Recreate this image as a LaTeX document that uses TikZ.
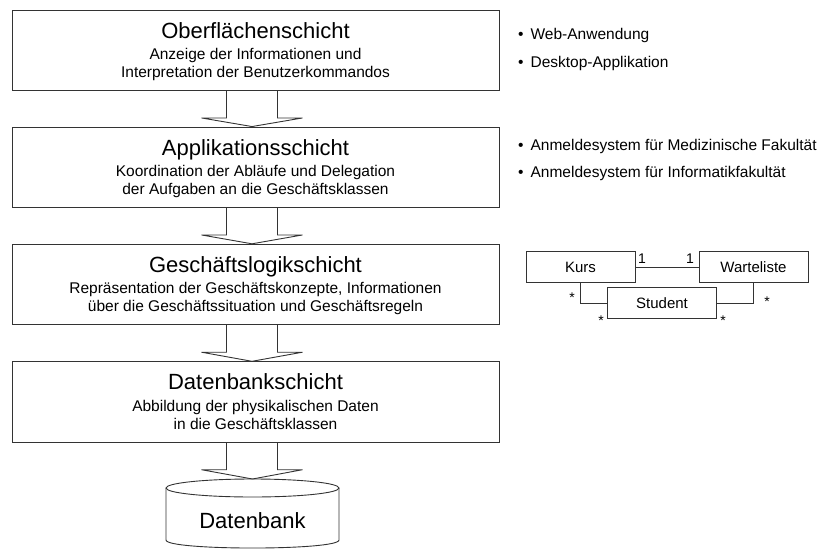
\documentclass[tikz,border=0pt]{standalone}
\usepackage{fontspec}
\setmainfont{Liberation Sans}
\usetikzlibrary{calc}
\tikzset{
  line/.style={draw=black!80, line width=0.9pt},
  layer/.style={line, fill=white, minimum width=487pt, minimum height=80.5pt, inner sep=0pt},
  ltitle/.style={anchor=base, inner sep=0pt, font=\fontsize{22}{26}\selectfont},
  lsub/.style={anchor=base, inner sep=0pt, font=\fontsize{15.5}{17}\selectfont},
  bul/.style={anchor=base west, inner sep=0pt, font=\fontsize{15.5}{17}\selectfont},
  cls/.style={line, fill=white, minimum width=109pt, minimum height=31pt, inner sep=0pt, font=\fontsize{15}{17}\selectfont},
  mult/.style={inner sep=0pt, font=\fontsize{14}{16}\selectfont},
  blockarrow/.style={line, line join=miter},
}
\newcommand\layerarrow[2]{%
  \draw[blockarrow] ($(#1.south)+(-29,0)$) -- ++(0,27) -- ++(-25,0) -- (#2)
    -- ($(#1.south)+(47,27)$) -- ++(-25,0) -- ++(0,-27);}
\begin{document}
\begin{tikzpicture}[x=1pt,y=-1pt]
\useasboundingbox (0,0) rectangle (827,549);

% layers
\node[layer] (b1) at (255.5,50.25) {};
\node[layer] (b2) at (255.5,167.25) {};
\node[layer] (b3) at (255.5,284.5) {};
\node[layer] (b4) at (255.5,402) {};

\node[ltitle] (t1) at ($(b1.north)+(0,28.5)$) {Oberflächenschicht};
\node[lsub] (s1a) at ($(b1.north)+(0,50)$) {Anzeige der Informationen und};
\node[lsub] (s1b) at ($(b1.north)+(0,68)$) {Interpretation der Benutzerkommandos};

\node[ltitle] (t2) at ($(b2.north)+(0,28.5)$) {Applikationsschicht};
\node[lsub] (s2a) at ($(b2.north)+(0,50)$) {Koordination der Abläufe und Delegation};
\node[lsub] (s2b) at ($(b2.north)+(0,68)$) {der Aufgaben an die Geschäftsklassen};

\node[ltitle] (t3) at ($(b3.north)+(0,28.5)$) {Geschäftslogikschicht};
\node[lsub] (s3a) at ($(b3.north)+(0,50)$) {Repräsentation der Geschäftskonzepte, Informationen};
\node[lsub] (s3b) at ($(b3.north)+(0,68)$) {über die Geschäftssituation und Geschäftsregeln};

\node[ltitle] (t4) at ($(b4.north)+(0,28.5)$) {Datenbankschicht};
\node[lsub] (s4a) at ($(b4.north)+(0,50)$) {Abbildung der physikalischen Daten};
\node[lsub] (s4b) at ($(b4.north)+(0,68)$) {in die Geschäftsklassen};

% database cylinder
\coordinate (dbtop) at (252.5,479);
\draw[line, fill=white] (166,488) -- (166,540) .. controls (166,550.7) and (339,550.7) .. (339,540) -- (339,488);
\draw[line] (252.5,488) ellipse [x radius=86.5, y radius=9];
\node[ltitle] (db) at (252.5,528) {Datenbank};

% arrows
\layerarrow{b1}{$(b2.north)+(-3.5,0)$}
\layerarrow{b2}{$(b3.north)+(-3.5,0)$}
\layerarrow{b3}{$(b4.north)+(-3.5,0)$}
\layerarrow{b4}{dbtop}

% bullets
\node[bul] (w1) at (518,39.5) {•\hspace{7pt}Web-Anwendung};
\node[bul] (w2) at (518,67) {•\hspace{7pt}Desktop-Applikation};
\node[bul] (a1) at (518,150.5) {•\hspace{7pt}Anmeldesystem für Medizinische Fakultät};
\node[bul] (a2) at (518,177) {•\hspace{7pt}Anmeldesystem für Informatikfakultät};

% class diagram
\node[cls] (kurs) at (580.5,267) {Kurs};
\node[cls] (warte) at (753.5,267) {Warteliste};
\node[cls] (stud) at (662,303) {Student};
\draw[line] (kurs) -- (warte);
\draw[line] (kurs.south) |- (stud.west);
\draw[line] (warte.south) |- (stud.east);
\node[mult] (m1) at (642,259) {1};
\node[mult] (m2) at (690,259) {1};
\node[mult, anchor=base] (m3) at (572,302) {*};
\node[mult, anchor=base] (m4) at (601,325) {*};
\node[mult, anchor=base] (m5) at (723,325) {*};
\node[mult, anchor=base] (m6) at (767,306) {*};
\end{tikzpicture}
\end{document}
